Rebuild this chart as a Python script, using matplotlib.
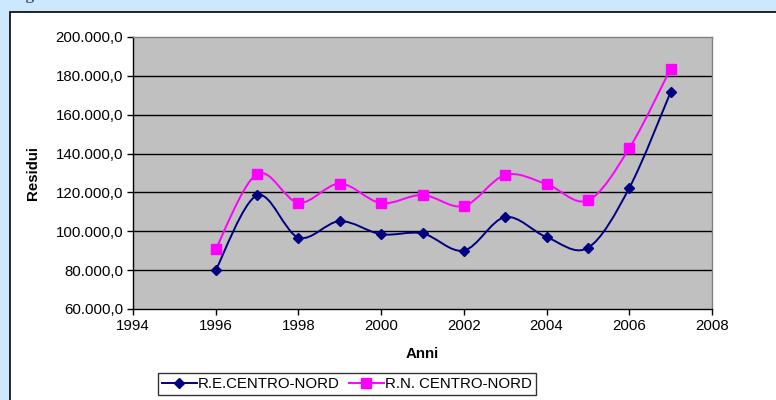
import matplotlib
matplotlib.use("Agg")
import matplotlib.pyplot as plt
from matplotlib.path import Path
from matplotlib.patches import PathPatch, Rectangle
from matplotlib.lines import Line2D
import numpy as np

plt.rcParams['font.family'] = ['Liberation Sans', 'DejaVu Sans']

years = [1996, 1997, 1998, 1999, 2000, 2001, 2002, 2003, 2004, 2005, 2006, 2007]
re_centro_nord = [80000, 118500, 96800, 105200, 98500, 98900, 90100, 107300, 97000, 91500, 122300, 171600]
rn_centro_nord = [90800, 129500, 114700, 124500, 114500, 118700, 113000, 129000, 124300, 115900, 142700, 183700]
series_names = ["R.E.CENTRO-NORD", "R.N. CENTRO-NORD"]
y_ticks = [60000, 80000, 100000, 120000, 140000, 160000, 180000, 200000]
x_ticks = [1994, 1996, 1998, 2000, 2002, 2004, 2006, 2008]

FS = 10.8


def smooth_path(xs, ys):
    xs = np.asarray(xs, float)
    ys = np.asarray(ys, float)
    n = len(xs)
    verts = [(xs[0], ys[0])]
    codes = [Path.MOVETO]
    for i in range(n - 1):
        p0 = (xs[i - 1], ys[i - 1]) if i > 0 else (xs[i], ys[i])
        p1 = (xs[i], ys[i])
        p2 = (xs[i + 1], ys[i + 1])
        p3 = (xs[i + 2], ys[i + 2]) if i + 2 < n else (xs[i + 1], ys[i + 1])
        c1 = (p1[0] + (p2[0] - p0[0]) / 6, p1[1] + (p2[1] - p0[1]) / 6)
        c2 = (p2[0] - (p3[0] - p1[0]) / 6, p2[1] - (p3[1] - p1[1]) / 6)
        verts += [c1, c2, p2]
        codes += [Path.CURVE4] * 3
    return Path(verts, codes)


def fmt(v):
    s = f"{v:,.1f}"
    return s.replace(",", "X").replace(".", ",").replace("X", ".")


fig = plt.figure(figsize=(7.76, 4.0), dpi=100)
fig.patch.set_facecolor('#CCE8FF')

# white panel with black border on left/top
panel = Rectangle((10 / 776, -0.1), 1.1, 1 - 12 / 400 + 0.1,
                  transform=fig.transFigure, facecolor='white',
                  edgecolor='black', linewidth=1.2, zorder=-5)
fig.patches.append(panel)

# cut-off caption at the top
fig.text(10 / 776, 1 + 1 / 400, "Fig. 5 \u2013 Residui totali e residui nuovi nel Centro-Nord",
         family='Liberation Serif', fontweight='bold', fontsize=12.5, color='#555555',
         va='baseline', ha='left')

ax = fig.add_axes([133 / 776, 1 - 309 / 400, (712 - 133) / 776, (309 - 37) / 400])
ax.set_zorder(5)
ax.set_facecolor('#C0C0C0')
ax.set_xlim(1994, 2008)
ax.set_ylim(60000, 200000)

for yv in y_ticks[1:-1]:
    ax.axhline(yv, color='black', linewidth=1.0, zorder=1)

colors = ['#000080', '#FF00FF']
markers = ['D', 's']
msizes = [5.5, 7.5]
for vals, c, m, ms in zip([rn_centro_nord, re_centro_nord], colors[::-1], markers[::-1], msizes[::-1]):
    ax.add_patch(PathPatch(smooth_path(years, vals), facecolor='none', edgecolor=c,
                           linewidth=1.4, zorder=3))
    ax.plot(years, vals, linestyle='none', marker=m, color=c, markersize=ms, zorder=4)

ax.set_yticks(y_ticks)
ax.set_yticklabels([fmt(v) for v in y_ticks])
ax.set_xticks(x_ticks)
ax.set_xticklabels([str(v) for v in x_ticks])
ax.tick_params(axis='both', direction='out', length=4, width=1, color='black',
               labelsize=FS, pad=3)

for side in ['top', 'right']:
    ax.spines[side].set_color('#808080')
    ax.spines[side].set_linewidth(1.0)
for side in ['left', 'bottom']:
    ax.spines[side].set_color('black')
    ax.spines[side].set_linewidth(1.0)

ax.set_ylabel("Residui", fontweight='bold', fontsize=FS)
ax.yaxis.set_label_coords((33 - 133) / (712 - 133), 0.5)
ax.set_xlabel("Anni", fontweight='bold', fontsize=FS)
ax.xaxis.set_label_coords(0.5, -(354 - 309) / (309 - 37))
ax.xaxis.label.set_va('center')
ax.yaxis.label.set_va('center')

handles = [Line2D([], [], color=colors[0], marker='D', markersize=5.5, linewidth=1.4),
           Line2D([], [], color=colors[1], marker='s', markersize=7.5, linewidth=1.4)]
leg = fig.legend(handles, series_names, loc='center', ncol=2,
                 bbox_to_anchor=(347 / 776, 1 - 384 / 400), fontsize=FS,
                 frameon=True, fancybox=False, edgecolor='black', handlelength=2.3,
                 handletextpad=0.1, columnspacing=0.6, borderpad=0.25, borderaxespad=0)
leg.get_frame().set_linewidth(1.0)
leg.set_zorder(6)

fig.savefig("out.png", dpi=100, facecolor=fig.get_facecolor())
